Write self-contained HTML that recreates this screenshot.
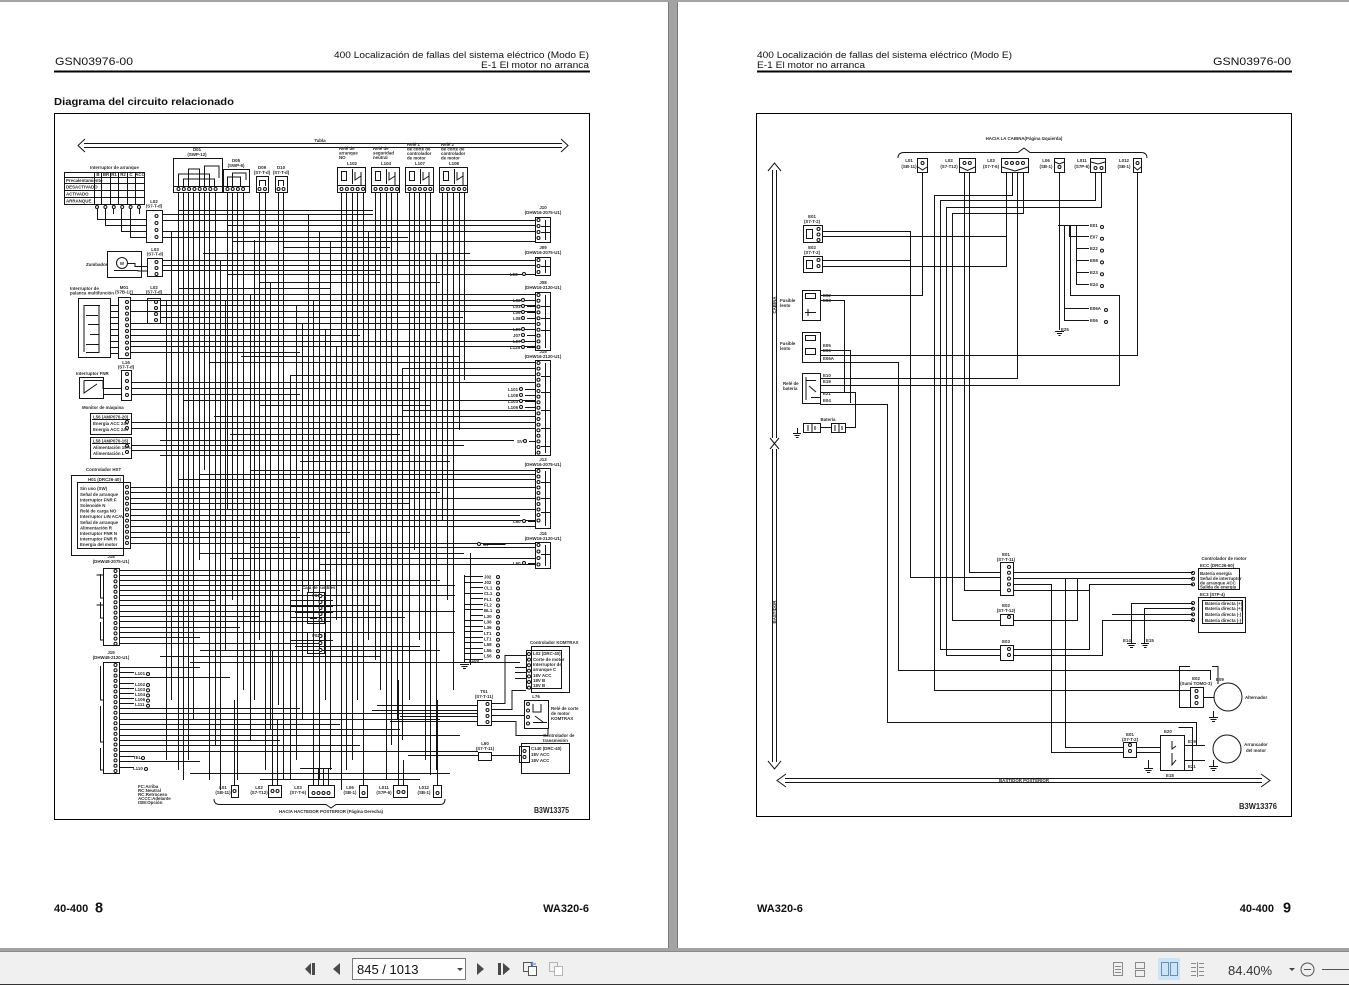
<!DOCTYPE html>
<html><head><meta charset="utf-8">
<style>
html,body{margin:0;padding:0;width:1349px;height:985px;overflow:hidden;background:#a3a3a3}
svg{display:block}
text{font-family:"Liberation Sans",Arial,sans-serif}
.w{fill:none;stroke:#151515;stroke-width:1}
.t{font-size:4.4px;font-weight:bold;fill:#2a2a2a}
.tm{font-size:4.4px;font-weight:bold;fill:#2a2a2a;text-anchor:middle}
</style></head><body>
<svg width="1349" height="985" viewBox="0 0 1349 985" xmlns="http://www.w3.org/2000/svg">
<defs>
<g id="pins" fill="none" stroke-linecap="round">
<path d="M156.5 216V238" stroke-dasharray="0 7"/>
<path d="M156.5 262V275" stroke-dasharray="0 6"/>
<path d="M127 302V355" stroke-dasharray="0 5.8"/>
<path d="M156 302V321" stroke-dasharray="0 6"/>
<path d="M178.5 189H216" stroke-dasharray="0 5.3"/>
<path d="M227.5 189H244" stroke-dasharray="0 5.2"/>
<path d="M259.5 189H266" stroke-dasharray="0 5.5"/>
<path d="M278.5 189H284" stroke-dasharray="0 5"/>
<path d="M341.5 189H364" stroke-dasharray="0 5.4"/>
<path d="M375.5 189H398" stroke-dasharray="0 5.4"/>
<path d="M409.5 189H431" stroke-dasharray="0 5.2"/>
<path d="M442.5 189H465" stroke-dasharray="0 5.5"/>
<path d="M97 207H140" stroke-dasharray="0 8.4"/>
<path d="M127 374V396" stroke-dasharray="0 7"/>
<path d="M127 422V429" stroke-dasharray="0 6"/>
<path d="M127 446V453" stroke-dasharray="0 6"/>
<path d="M127 487V544" stroke-dasharray="0 5.6"/>
<path d="M115.5 571V644" stroke-dasharray="0 5.2"/>
<path d="M115.5 665V771" stroke-dasharray="0 5.3"/>
<path d="M538.5 220V239" stroke-dasharray="0 6"/>
<path d="M538.5 260V273" stroke-dasharray="0 6"/>
<path d="M538.5 295V348" stroke-dasharray="0 5.8"/>
<path d="M538.5 363V453" stroke-dasharray="0 5.6"/>
<path d="M538.5 471V526" stroke-dasharray="0 5.5"/>
<path d="M538.5 545V566" stroke-dasharray="0 6.5"/>
<path d="M498 577V658" stroke-dasharray="0 5.7"/>
<path d="M529 654V688" stroke-dasharray="0 5.6"/>
<path d="M487.5 704V723" stroke-dasharray="0 6"/>
<path d="M528 704V725" stroke-dasharray="0 6.5"/>
<path d="M524.5 751V758" stroke-dasharray="0 6"/>
<path d="M320.5 596V621" stroke-dasharray="0 6"/>
<path d="M320.5 636V651" stroke-dasharray="0 7"/>
<path d="M234.5 791H235" stroke-dasharray="0 10"/>
<path d="M272.5 791H278" stroke-dasharray="0 5"/>
<path d="M313.5 793H329" stroke-dasharray="0 5"/>
<path d="M363.5 793H364" stroke-dasharray="0 10"/>
<path d="M398.5 792H404" stroke-dasharray="0 5"/>
<path d="M437.5 793H438" stroke-dasharray="0 10"/>
<path d="M523 300V319" stroke-dasharray="0 6"/>
<path d="M523 329V348" stroke-dasharray="0 6"/>
<path d="M521 389V408" stroke-dasharray="0 6"/>
<path d="M525 441V442" stroke-dasharray="0 10"/>
<path d="M524 521V522" stroke-dasharray="0 10"/>
<path d="M524 563V564" stroke-dasharray="0 10"/>
<path d="M524 274V275" stroke-dasharray="0 10"/>
<path d="M479 544V545" stroke-dasharray="0 10"/>
<path d="M148 674V675" stroke-dasharray="0 10"/>
<path d="M148 685V706" stroke-dasharray="0 5.2"/>
<path d="M143 758V759" stroke-dasharray="0 10"/>
<path d="M146 769V770" stroke-dasharray="0 10"/>
<path d="M818.5 229V241" stroke-dasharray="0 5.5"/>
<path d="M818.5 260V271" stroke-dasharray="0 6"/>
<path d="M922.5 163H923" stroke-dasharray="0 10"/>
<path d="M964.5 163H970" stroke-dasharray="0 5.3"/>
<path d="M1006.5 163H1024" stroke-dasharray="0 5.5"/>
<path d="M1059.5 167H1060" stroke-dasharray="0 10"/>
<path d="M1095.5 168H1102" stroke-dasharray="0 6"/>
<path d="M1137.5 163H1138" stroke-dasharray="0 10"/>
<path d="M1009 567V591" stroke-dasharray="0 5.8"/>
<path d="M1009 617V623" stroke-dasharray="0 6"/>
<path d="M1009 649V656" stroke-dasharray="0 6"/>
<path d="M1193 573V585" stroke-dasharray="0 5.7"/>
<path d="M1193 603V621" stroke-dasharray="0 5.7"/>
<path d="M1196.5 691V704" stroke-dasharray="0 6"/>
<path d="M1130 745V753" stroke-dasharray="0 6"/>
<path d="M1102 227V287" stroke-dasharray="0 11.8"/>
<path d="M1106 310V323" stroke-dasharray="0 12"/>
</g>
</defs>

<!-- background / pages -->
<rect x="0" y="0" width="1349" height="985" fill="#a3a3a3"/>
<rect x="0" y="2" width="668" height="946" fill="#fff"/>
<rect x="678" y="2" width="671" height="946" fill="#fff"/>
<path d="M668.5 2V948M677.5 2V948" stroke="#7a7a7a" stroke-width="1"/>
<rect x="0" y="952" width="1349" height="33" fill="#f0f0f0"/>
<path d="M0 951.5H1349" stroke="#8a8a8a"/>
<path d="M0 984.5H1349" stroke="#333"/>

<!-- LEFT PAGE header -->
<text x="55" y="65" font-size="11.3" textLength="78" lengthAdjust="spacingAndGlyphs" fill="#111">GSN03976-00</text>
<text x="334" y="58" font-size="9.6" textLength="255" lengthAdjust="spacingAndGlyphs" fill="#111">400 Localización de fallas del sistema eléctrico (Modo E)</text>
<text x="481" y="68" font-size="9.6" textLength="108" lengthAdjust="spacingAndGlyphs" fill="#111">E-1 El motor no arranca</text>
<rect x="54" y="70.5" width="536" height="2" fill="#000"/>
<text x="54" y="105" font-size="10.5" font-weight="bold" textLength="180" lengthAdjust="spacingAndGlyphs" fill="#111">Diagrama del circuito relacionado</text>
<rect x="54.5" y="113.5" width="535" height="706" fill="none" stroke="#000" stroke-width="1"/>
<text x="54" y="912" font-size="11" font-weight="bold" fill="#111">40-400</text>
<text x="95" y="912.5" font-size="14.5" font-weight="bold" fill="#111">8</text>
<text x="589" y="912" font-size="11" font-weight="bold" text-anchor="end" fill="#111">WA320-6</text>

<!-- RIGHT PAGE header -->
<text x="757" y="58" font-size="9.6" textLength="255" lengthAdjust="spacingAndGlyphs" fill="#111">400 Localización de fallas del sistema eléctrico (Modo E)</text>
<text x="757" y="68" font-size="9.6" textLength="108" lengthAdjust="spacingAndGlyphs" fill="#111">E-1 El motor no arranca</text>
<text x="1213" y="65" font-size="11.3" textLength="78" lengthAdjust="spacingAndGlyphs" fill="#111">GSN03976-00</text>
<rect x="757" y="70.5" width="535" height="2" fill="#000"/>
<rect x="756.5" y="113.5" width="535" height="703" fill="none" stroke="#000" stroke-width="1"/>
<text x="757" y="912" font-size="11" font-weight="bold" fill="#111">WA320-6</text>
<text x="1274" y="912" font-size="11" font-weight="bold" text-anchor="end" fill="#111">40-400</text>
<text x="1283" y="912.5" font-size="14.5" font-weight="bold" fill="#111">9</text>

<!-- ============ LEFT DIAGRAM ============ -->
<path class="w" d="M84 143.5H562M84 147.5H562M85 139L78 145.5L85 152M561 139L568 145.5L561 152"/>
<text class="tm" x="320" y="142">Tabla</text>

<!-- verticals -->
<path class="w" d="M178.5 192V770M183.5 192V780M188.5 192V760M193.5 192V720M199.5 192V560M204.5 192V470M209.5 192V780M215.5 192V745M227.5 192V510M232.5 192V600M237.5 192V780M243.5 192V690M259.5 192V640M265.5 192V770M278.5 192V705M283.5 192V780M341.5 192V790M346.5 192V770M352.5 192V760M357.5 192V700M363.5 192V780M375.5 192V660M380.5 192V690M386.5 192V780M391.5 192V745M397.5 192V720M409.5 192V700M414.5 192V550M419.5 192V640M425.5 192V760M430.5 192V775M442.5 192V520M447.5 192V600M453.5 192V690M459.5 192V430M464.5 192V380M166.5 300V760M171.5 231V700M220.5 260V790M225.5 300V650M250.5 294V740M254.5 240V700M270.5 282V730M290.5 375V780M296.5 305V760M302.5 323V720M308.5 214V592M313.5 300V768M319.5 231V780M325.5 329V700M330.5 241V770M336.5 346V620M368.5 231V640M402.5 368V740M436.5 253V770M470.5 553V665M234.5 700V785M272.5 650V785M277.5 720V785M313.5 768V785M318.5 768V785M323.5 768V785M328.5 768V785M363.5 640V785M398.5 680V785M403.5 760V785M437.5 700V785M300 768.5H332"/>
<!-- horizontals -->
<path class="w" d="M178 210.5H373M162 214.5H373M162 220.5H535M227 225.5H535M162 231.5H535M162 237.5H408M232 241.5H535M283 247.5H390M203 253.5H470M162 260.5H535M162 265.5H535M162 270.5H380M227 274.5H535M259 282.5H440M178 288.5H330M130 294.5H535M130 300.5H535M160 305.5H535M130 311.5H535M160 317.5H463M130 323.5H535M130 329.5H535M130 335.5H360M130 341.5H535M130 346.5H535M130 352.5H300M241 356.5H460M209 362.5H535M403 368.5H535M291 375.5H535M131 382.5H535M131 388.5H420M131 394.5H300M183 400.5H535M260 405.5H430M402 410.5H535M214 416.5H535M131 422.5H535M131 428.5H535M230 434.5H400M160 440.5H514M131 445.5H464M131 450.5H409M160 455.5H535M300 461.5H450M250 470.5H535M200 474.5H535M178 479.5H535M130 487.5H535M130 492.5H440M130 498.5H535M130 503.5H409M130 509.5H535M130 515.5H520M130 520.5H535M130 526.5H535M130 532.5H350M130 537.5H300M130 543.5H535M250 547.5H535M200 553.5H464M230 558.5H535M319 564.5H535M119 570.5H330M119 575.5H250M119 580.5H440M119 585.5H455M119 590.5H300M119 595.5H455M119 600.5H215M119 605.5H380M119 611.5H455M119 616.5H260M119 621.5H330M119 627.5H240M119 632.5H455M119 637.5H200M119 643.5H320M200 650.5H440M160 656.5H380M190 662.5H520M119 667.5H200M119 672.5H134M119 677.5H230M119 683.5H134M119 688.5H134M119 693.5H134M119 698.5H134M119 703.5H134M119 708.5H300M119 713.5H477M119 719.5H440M119 724.5H340M119 729.5H400M119 735.5H460M119 740.5H280M119 745.5H360M119 751.5H478M119 756.5H134M119 761.5H200M119 767.5H134M190 773.5H450M260 779.5H420"/>
<!-- right lower area wiring -->
<path class="w" d="M464.5 575V662M464 576.5H483M464 582.5H483M470 587.5H483M464 593.5H483M470 598.5H483M464 604.5H483M464 609.5H483M470 615.5H483M464 620.5H483M464 626.5H483M464 631.5H483M464 637.5H483M464 642.5H483M464 648.5H483M464 653.5H483M464 659.5H483M470.5 587V616M460 664.5H469M461.5 666.5H467.5M463 668.5H466M290 600.5H333M290 606.5H333M295 612.5H333M290 617.5H405M290 640.5H333M295 646.5H420M377 705.5H477M372 710.5H477M400 716.5H477M390 721.5H477M408 755.5H478M491 755.5H521M491 703.5H505V655.5H526M491 709.5H512V690.5H526M491 715.5H524M491 721.5H516V735.5H548V728M515 667.5H526M515 672.5H526M515 678.5H526"/>

<!-- top components -->
<g class="w">
<rect x="64.5" y="172.5" width="80" height="32"/>
<path d="M64 177.5H144M64 183.5H144M64 190.5H144M64 197.5H144M94.5 172V204M101.5 172V204M110.5 172V204M118.5 172V204M127.5 172V204M135.5 172V204"/>
<path d="M97.5 209V219.5H147M105.5 209V225.5H147M121.5 209V231.5H147M130.5 209V237.5H147M113.5 209V214M139.5 209V214"/>
<rect x="146.5" y="210.5" width="16" height="32"/>
<rect x="107.5" y="251.5" width="34" height="26"/>
<circle cx="122" cy="263" r="5.5"/>
<path d="M127.5 263.5H135V266.5H147M114 270.5H138V271H147"/>
<rect x="147.5" y="258.5" width="15" height="18"/>
<rect x="78.5" y="298.5" width="32" height="59"/>
<path d="M84 305.5H100M86 315.5H98M88 324.5H99M90 334.5H99M86 344.5H99M86 352.5H99M84 305V352M99 305V353M110 305.5H118M110 311.5H118M110 317.5H118M110 323.5H118M110 329.5H118M110 335.5H118M110 341.5H118M110 347.5H118M110 353.5H118"/>
<rect x="118.5" y="297.5" width="12" height="61"/>
<rect x="147.5" y="298.5" width="13" height="25"/>
<rect x="79.5" y="377.5" width="24" height="21"/>
<path d="M84 380.5V393L97 384M97 380.5H103V388.5H121M103 394.5H121M84 380.5H97"/>
<rect x="121.5" y="370.5" width="10" height="30"/>
<rect x="90.5" y="413.5" width="41" height="21"/>
<rect x="90.5" y="437.5" width="41" height="21"/>
<path d="M92 419.5H130M92 443.5H130"/>
<rect x="71.5" y="475.5" width="52" height="80"/>
<rect x="77.5" y="482.5" width="53" height="66"/>
<rect x="103.5" y="568.5" width="16" height="77"/>
<path d="M100.5 574V598H103M100.5 602V618H103M100.5 622V640H103M96.5 575H103M96.5 605H103"/>
<rect x="103.5" y="662.5" width="16" height="111"/>
<path d="M100.5 666V700H103M100.5 706V742H103M100.5 748V770H103"/>
<!-- D connectors -->
<rect x="173.5" y="158.5" width="49" height="34"/>
<path d="M173 186.5H222M178.5 186V174H209.5V186M183.5 186V179H214.5V186M188.5 186V169H199.5V186M204.5 186V166H219V178"/>
<rect x="223.5" y="169.5" width="26" height="23"/>
<path d="M223 186.5H249M227.5 186V177H240.5V186M232.5 186V173H246V180"/>
<rect x="256.5" y="176.5" width="12" height="16"/>
<path d="M259.5 186V180.5H265.5V186"/>
<rect x="275.5" y="176.5" width="12" height="16"/>
<path d="M278.5 186V180.5H283.5V186"/>
<!-- relays -->
<rect x="337.5" y="167.5" width="28" height="25"/><path d="M337 185.5H365M352.5 169V184"/><rect x="341.5" y="171.5" width="5" height="9"/><path d="M355 172V180L361 176M361 172V185"/>
<rect x="371.5" y="167.5" width="28" height="25"/><path d="M371 185.5H399M386.5 169V184"/><rect x="375.5" y="171.5" width="5" height="9"/><path d="M389 172V180L395 176M395 172V185"/>
<rect x="405.5" y="167.5" width="28" height="25"/><path d="M405 185.5H433M420.5 169V184"/><rect x="409.5" y="171.5" width="5" height="9"/><path d="M423 172V180L429 176M429 172V185"/>
<rect x="439.5" y="167.5" width="28" height="25"/><path d="M439 185.5H467M454.5 169V184"/><rect x="443.5" y="171.5" width="5" height="9"/><path d="M457 172V180L463 176M463 172V185"/>
<!-- J right connectors -->
<rect x="535.5" y="217.5" width="15" height="25"/>
<rect x="535.5" y="257.5" width="15" height="18"/>
<rect x="535.5" y="292.5" width="15" height="58"/>
<rect x="535.5" y="360.5" width="15" height="95"/>
<rect x="535.5" y="468.5" width="15" height="60"/>
<rect x="535.5" y="542.5" width="15" height="26"/>
<path d="M545.5 220V240M545.5 260V273M545.5 295V348M545.5 363V453M545.5 471V526M545.5 545V566M541 226.5H550M541 232.5H550M541 266.5H550M541 306.5H550M541 318.5H550M541 330.5H550M541 376.5H550M541 392.5H550M541 410.5H550M541 428.5H550M541 446.5H550M541 482.5H550M541 498.5H550M541 512.5H550M541 554.5H550"/>
<path d="M512 274.5H535M527 300.5H535M527 306.5H535M527 312.5H535M527 318.5H535M527 329.5H535M527 335.5H535M527 341.5H535M527 347.5H535M525 389.5H535M525 395.5H535M525 401.5H535M525 407.5H535M529 441.5H535M528 521.5H535M528 563.5H535M483 544.5H505V544"/>
<!-- fuses -->
<rect x="307.5" y="592.5" width="17" height="31"/>
<rect x="307.5" y="632.5" width="17" height="21"/>
<path d="M310 600.5H317M310 606.5H317M310 612.5H317M310 618.5H317M310 640.5H317M310 646.5H317"/>
<!-- komtrax etc -->
<rect x="531.5" y="646.5" width="38" height="46"/>
<rect x="526.5" y="650.5" width="35" height="38"/>
<rect x="477.5" y="700.5" width="14" height="25"/>
<rect x="524.5" y="700.5" width="24" height="28"/>
<path d="M533 704V712H541V704M535 716L543 722M533 722.5H547"/>
<rect x="478.5" y="752.5" width="13" height="8"/>
<rect x="521.5" y="743.5" width="48" height="30"/>
<rect x="519.5" y="746.5" width="10" height="16"/>
<!-- bottom connectors -->
<rect x="231.5" y="785.5" width="7" height="12"/>
<rect x="268.5" y="785.5" width="13" height="12"/>
<rect x="308.5" y="785.5" width="26" height="12"/>
<rect x="359.5" y="785.5" width="8" height="12"/>
<rect x="393.5" y="785.5" width="14" height="12"/>
<rect x="433.5" y="785.5" width="8" height="12"/>
<path d="M214 799Q214 804.5 220 804.5H326L331 808L336 804.5H440Q445 804.5 445 799"/>
</g>
<use href="#pins" stroke="#111" stroke-width="4"/>
<use href="#pins" stroke="#fff" stroke-width="2"/>

<!-- left diagram labels -->
<g>
<text class="t" x="90" y="169">Interruptor de arranque</text>
<text class="t" x="66" y="182">Precalentamiento</text>
<text class="t" x="66" y="188.5">DESACTIVADO</text>
<text class="t" x="66" y="195.5">ACTIVADO</text>
<text class="t" x="66" y="202.5">ARRANQUE</text>
<text class="tm" x="98" y="176">B</text><text class="tm" x="106" y="176">BR</text><text class="tm" x="114" y="176">R1</text><text class="tm" x="123" y="176">R2</text><text class="tm" x="131" y="176">C</text><text class="tm" x="140" y="176">ACC</text>
<text class="tm" x="154" y="203">L02</text><text class="tm" x="154" y="207.5">(S7-T-d)</text>
<text class="t" x="86" y="266">Zumbador</text>
<text class="tm" x="122" y="265">W</text>
<text class="tm" x="155" y="251">L03</text><text class="tm" x="155" y="255.5">(S7-T-d)</text>
<text class="t" x="70" y="290">Interruptor de</text><text class="t" x="70" y="294.5">palanca multifunción</text>
<text class="tm" x="124" y="289">M01</text><text class="tm" x="124" y="293.5">(S7B-12)</text>
<text class="tm" x="154" y="289">L02</text><text class="tm" x="154" y="293.5">(S7-T-d)</text>
<text class="t" x="76" y="375">Interruptor FNR</text>
<text class="tm" x="126" y="364">L16</text><text class="tm" x="126" y="368.5">(S7-T-d)</text>
<text class="t" x="82" y="409">Monitor de máquina</text>
<text class="t" x="93" y="418.5">L56 (AMP070-20)</text>
<text class="t" x="93" y="425">Energía ACC 24V</text><text class="t" x="93" y="431">Energía ACC 24V</text>
<text class="t" x="93" y="442.5">L58 (AMP070-16)</text>
<text class="t" x="93" y="449">Alimentación 15%</text><text class="t" x="93" y="455">Alimentación L</text>
<text class="t" x="86" y="471">Controlador HST</text>
<text class="t" x="88" y="481">H01 (DRC26-40)</text>
<text class="t" x="80" y="490">Sin uso (SW)</text>
<text class="t" x="80" y="496">Señal de arranque</text>
<text class="t" x="80" y="501.5">Interruptor FNR F</text>
<text class="t" x="80" y="507">Solenoide N</text>
<text class="t" x="80" y="512.5">Relé de carga NO</text>
<text class="t" x="80" y="518">Interruptor LIN ACAV</text>
<text class="t" x="80" y="524">Señal de arranque</text>
<text class="t" x="80" y="529.5">Alimentación R</text>
<text class="t" x="80" y="535">Interruptor FNR N</text>
<text class="t" x="80" y="540.5">Interruptor FNR R</text>
<text class="t" x="80" y="546">Energía del motor</text>
<text class="tm" x="111" y="558">J18</text><text class="tm" x="111" y="563">(DHW48-2075-U1)</text>
<text class="tm" x="111" y="654">J19</text><text class="tm" x="111" y="659">(DHW48-2120-U1)</text>
<text class="t" x="135" y="675">L101</text>
<text class="t" x="135" y="686">L102</text><text class="t" x="135" y="691">L103</text><text class="t" x="135" y="696">L104</text><text class="t" x="135" y="701">L106</text><text class="t" x="135" y="706">L111</text>
<text class="t" x="133" y="759">TEL</text><text class="t" x="133" y="770">L110</text>
<text class="t" x="138" y="788">FC:Arriba</text><text class="t" x="138" y="792">RC:Neutral</text><text class="t" x="138" y="796">RC:Retroceso</text><text class="t" x="138" y="800">ACCC:Adelante</text><text class="t" x="138" y="804">ISM:Opción</text>
<text class="tm" x="197" y="151">D01</text><text class="tm" x="197" y="156">(SWP-12)</text>
<text class="tm" x="236" y="162">D05</text><text class="tm" x="236" y="167">(SWP-6)</text>
<text class="tm" x="262" y="169">D09</text><text class="tm" x="262" y="174">(S7-T-d)</text>
<text class="tm" x="281" y="169">D10</text><text class="tm" x="281" y="174">(S7-T-d)</text>
<text class="t" x="339" y="150">Relé de</text><text class="t" x="339" y="154.5">arranque</text><text class="t" x="339" y="159">NO</text>
<text class="tm" x="352" y="165">L102</text>
<text class="t" x="373" y="150">Relé de</text><text class="t" x="373" y="154.5">seguridad</text><text class="t" x="373" y="159">neutral</text>
<text class="tm" x="386" y="165">L104</text>
<text class="t" x="407" y="146">Relé 1</text><text class="t" x="407" y="150.5">de corte de</text><text class="t" x="407" y="155">controlador</text><text class="t" x="407" y="159.5">de motor</text>
<text class="tm" x="420" y="165">L107</text>
<text class="t" x="441" y="146">Relé 2</text><text class="t" x="441" y="150.5">de corte de</text><text class="t" x="441" y="155">controlador</text><text class="t" x="441" y="159.5">de motor</text>
<text class="tm" x="454" y="165">L108</text>
<text class="tm" x="543" y="209">J10</text><text class="tm" x="543" y="214">(DHW16-2075-U1)</text>
<text class="tm" x="543" y="249">J09</text><text class="tm" x="543" y="254">(DHW16-2075-U1)</text>
<text class="tm" x="543" y="284">J08</text><text class="tm" x="543" y="289">(DHW16-2120-U1)</text>
<text class="tm" x="543" y="353">J15</text><text class="tm" x="543" y="358">(DHW16-2120-U1)</text>
<text class="tm" x="543" y="461">J13</text><text class="tm" x="543" y="466">(DHW16-2075-U1)</text>
<text class="tm" x="543" y="535">J16</text><text class="tm" x="543" y="540">(DHW16-2120-U1)</text>
<text class="t" x="510" y="276">L03</text>
<text class="t" x="513" y="302">L02</text><text class="t" x="513" y="308">L03</text><text class="t" x="513" y="314">L06</text><text class="t" x="513" y="320">L08</text>
<text class="t" x="513" y="331">L09</text><text class="t" x="513" y="337">J07</text><text class="t" x="513" y="343">L07</text><text class="t" x="510" y="349">L125</text>
<text class="t" x="508" y="391">L101</text><text class="t" x="508" y="397">L108</text><text class="t" x="508" y="403">L103</text><text class="t" x="508" y="409">L106</text>
<text class="t" x="517" y="443">SV</text>
<text class="t" x="513" y="523">L60</text>
<text class="t" x="513" y="565">L60</text>
<text class="t" x="483" y="546">SV</text>
<text class="t" x="484" y="578.5">J02</text><text class="t" x="484" y="584">J02</text><text class="t" x="484" y="589.5">CL1</text><text class="t" x="484" y="595">CL1</text><text class="t" x="484" y="601">FL1</text><text class="t" x="484" y="606.5">FL2</text><text class="t" x="484" y="612">BL1</text><text class="t" x="484" y="618">L30</text><text class="t" x="484" y="623.5">L36</text><text class="t" x="484" y="629">L36</text><text class="t" x="484" y="635">LT1</text><text class="t" x="484" y="640.5">LT1</text><text class="t" x="484" y="646">L58</text><text class="t" x="484" y="652">L56</text><text class="t" x="484" y="657.5">L56</text>
<text class="t" x="469" y="662">L100</text>
<text class="t" x="302" y="589">Caja de fusibles</text>
<text class="tm" x="316" y="597">F01</text><text class="tm" x="316" y="637">F02</text>
<text class="t" x="530" y="644">Controlador KOMTRAX</text>
<text class="t" x="533" y="655">L02 (DRC-40)</text>
<text class="t" x="533" y="661">Corte de motor</text><text class="t" x="533" y="666">Interruptor de</text><text class="t" x="533" y="671">arranque C</text><text class="t" x="533" y="677">18V ACC</text><text class="t" x="533" y="682">18V B</text><text class="t" x="533" y="687">18V B</text>
<text class="tm" x="484" y="693">T01</text><text class="tm" x="484" y="698">(S7-T-11)</text>
<text class="tm" x="536" y="698">L76</text>
<text class="t" x="551" y="710">Relé de corte</text><text class="t" x="551" y="715">de motor</text><text class="t" x="551" y="720">KOMTRAX</text>
<text class="tm" x="485" y="745">L60</text><text class="tm" x="485" y="750">(S7-T-11)</text>
<text class="t" x="543" y="737">Controlador de</text><text class="t" x="543" y="742">transmisión</text>
<text class="t" x="531" y="750">C140 (DRC-40)</text><text class="t" x="531" y="756">18V ACC</text><text class="t" x="531" y="762">18V ACC</text>
<text class="tm" x="223" y="789">L01</text><text class="tm" x="223" y="794">(SB-11)</text>
<text class="tm" x="259" y="789">L02</text><text class="tm" x="259" y="794">(S7-T12)</text>
<text class="tm" x="298" y="789">L03</text><text class="tm" x="298" y="794">(S7-T-6)</text>
<text class="tm" x="350" y="789">L06</text><text class="tm" x="350" y="794">(SB-1)</text>
<text class="tm" x="384" y="789">L011</text><text class="tm" x="384" y="794">(S7P-6)</text>
<text class="tm" x="424" y="789">L012</text><text class="tm" x="424" y="794">(SB-1)</text>
<text class="tm" x="331" y="813">HACIA HACTEDOR POSTERIOR (Página Derecha)</text>
<text x="534" y="813" font-size="8" font-weight="bold" textLength="35" lengthAdjust="spacingAndGlyphs" fill="#222">B3W13375</text>
</g>

<!-- ============ RIGHT DIAGRAM ============ -->
<text class="tm" x="1024" y="140">HACIA LA CABINA(Página Izquierda)</text>
<path class="w" d="M898 158Q898 152.5 904 152.5H1018L1024 148L1030 152.5H1141Q1147 152.5 1147 158"/>
<g class="w">
<rect x="917.5" y="158.5" width="10" height="14"/>
<rect x="959.5" y="158.5" width="16" height="14"/>
<rect x="1001.5" y="158.5" width="27" height="14"/>
<rect x="1054.5" y="158.5" width="10" height="14"/>
<rect x="1090.5" y="158.5" width="15" height="14"/>
<rect x="1133.5" y="158.5" width="8" height="14"/>
<path d="M918 167L922.5 170L927 167M960 167L967.5 170.5L975 167M1002 167L1015 171L1028 167M1055 162L1059.5 164L1064 162M1091 162L1098 164L1105 162M1134 167L1137.5 170L1141 167"/>
<!-- left arrows -->
<path d="M772.5 170V438M776.5 170V438M768 171L774.5 163L781 171M770 438L779 449M779 438L770 449M772.5 449V762M776.5 449V762M768 761L774.5 769L781 761"/>
<path d="M785 778.5H1262M785 782.5H1262M786 774L777 780.5L786 787M1261 774L1270 780.5L1261 787"/>
<!-- wires -->
<path d="M922.5 172V295.5H820M964.5 172V590.5H1000M969.5 172V572.5H1000M1012.5 172V195.5H934.5V690.5H1190M1006.5 172V266.5H822M822 236.5H1006M1017.5 172V378.5H820M1023.5 172V213.5H952.5V620.5H1000M1095.5 172V200.5H940.5V649.5H1000M1101.5 172V207.5H946.5V655.5H1000M1059.5 172V330M1137.5 172V355.5H820M822 231.5H910.5V577.5H1000M822 260.5H910M1058 225.5H1089M1069.5 225V236.5H1089M1076.5 225V284.5M1076 248.5H1089M1076 260.5H1089M1076 272.5H1089M1076 284.5H1089M1070.5 225V295.5H1119.5V385.5H820M1064.5 225V320.5H1089M1064 308.5H1089M820 300.5H844.5V392.5M820 350.5H850.5V403M820 362.5H898.5V670.5H1210.5V680M820 392.5H855.5V427.5H845M820 404.5H887.5V722.5H1196.5V745"/>
<path d="M1013 572.5H1193M1013 578.5H1193M1065.5 578V747.5H1123M1013 584.5H1051.5V752.5H1123M1013 590.5H1089.5V584.5H1193M1013 620.5H1077.5V578M1013 649.5H1089.5V590M1013 655.5H1102.5V620.5H1193M1193 603.5H1131.5V643M1193 608.5H1144.5V643M1193 614.5H1112"/>
<path d="M1127 643.5H1136M1128.5 645.5H1134.5M1130 647.5H1133M1141 643.5H1149M1142.5 645.5H1147.5M1144 647.5H1146.5M1055 331.5H1064M1057 333.5H1062M1058.5 335.5H1060.5M793 433.5H801M794.5 435.5H799.5M796 437.5H798.5M797.5 428V433M1209 717.5H1218M1210.5 719.5H1216.5M1212 721.5H1215M1213.5 711V717M1209 766.5H1218M1210.5 768.5H1216.5M1212 770.5H1215M1213.5 760V766M1144 768.5H1153M1145.5 770.5H1151.5M1147 772.5H1150M1148.5 760V768"/>
<!-- left components -->
<rect x="803.5" y="225.5" width="19" height="17"/><rect x="806.5" y="229.5" width="6" height="9"/>
<rect x="803.5" y="256.5" width="19" height="16"/><rect x="806.5" y="260.5" width="6" height="8"/>
<rect x="802.5" y="290.5" width="18" height="30"/><rect x="805.5" y="293.5" width="10" height="5"/><path d="M805 312.5H816M808 309V316"/>
<rect x="802.5" y="332.5" width="18" height="30"/><rect x="805.5" y="335.5" width="10" height="5"/><rect x="805.5" y="348.5" width="10" height="6"/>
<rect x="802.5" y="373.5" width="18" height="30"/><path d="M806 377V400M806 380.5H816M809 386L816 392M811 397.5H820"/>
<rect x="803.5" y="423.5" width="17" height="9"/><path d="M808 425V431M812 424V432M815 426V430"/>
<rect x="831.5" y="423.5" width="14" height="9"/><path d="M835 425V431M839 424V432M842 426V430M820 427.5H831"/>
<!-- engine side -->
<rect x="1000.5" y="562.5" width="13" height="33"/>
<rect x="1000.5" y="614.5" width="13" height="11"/>
<rect x="1000.5" y="645.5" width="13" height="15"/>
<rect x="1198.5" y="568.5" width="41" height="21"/>
<rect x="1198.5" y="597.5" width="47" height="35"/>
<rect x="1202.5" y="600.5" width="40" height="23"/>
<rect x="1190.5" y="687.5" width="13" height="20"/>
<path d="M1190 666.5H1179.5V707.5H1190M1203 697.5H1214M1212 666.5H1218V684"/>
<circle cx="1228" cy="697" r="14"/>
<rect x="1123.5" y="742.5" width="13" height="15"/>
<rect x="1160.5" y="735.5" width="24" height="35"/>
<path d="M1172 741V749L1176 746M1172 753V765L1176 760M1178.5 727.5H1192.5V770.5H1178.5M1184 745.5H1205M1184 760.5H1205M1136 747.5H1160M1136 752.5H1160"/>
<circle cx="1227" cy="749" r="14"/>
</g>
<!-- right labels -->
<g>
<text class="tm" x="909" y="162">L01</text><text class="tm" x="909" y="168">(SB-11)</text>
<text class="tm" x="949" y="162">L02</text><text class="tm" x="949" y="168">(S7-T12)</text>
<text class="tm" x="991" y="162">L03</text><text class="tm" x="991" y="168">(S7-T-6)</text>
<text class="tm" x="1046" y="162">L06</text><text class="tm" x="1046" y="168">(SB-1)</text>
<text class="tm" x="1082" y="162">L011</text><text class="tm" x="1082" y="168">(S7P-6)</text>
<text class="tm" x="1124" y="162">L012</text><text class="tm" x="1124" y="168">(SB-1)</text>
<text class="tm" transform="translate(776,305) rotate(-90)">CABINA</text>
<text class="tm" transform="translate(776,612) rotate(-90)">BASTIDOR</text>
<text class="tm" x="1024" y="782">BASTIDOR POSTERIOR</text>
<text class="tm" x="812" y="218">E01</text><text class="tm" x="812" y="223">(S7-T-2)</text>
<text class="tm" x="812" y="249">E02</text><text class="tm" x="812" y="254">(S7-T-2)</text>
<text class="t" x="780" y="302">Fusible</text><text class="t" x="780" y="307">lento</text>
<text class="t" x="780" y="345">Fusible</text><text class="t" x="780" y="350">lento</text>
<text class="t" x="783" y="385">Relé de</text><text class="t" x="783" y="390">batería</text>
<text class="t" x="823" y="297">E02</text><text class="t" x="823" y="302">E03</text>
<text class="t" x="823" y="347">E05</text><text class="t" x="823" y="352">E06</text><text class="t" x="823" y="360">E06A</text>
<text class="t" x="823" y="377">E10</text><text class="t" x="823" y="383">E19</text><text class="t" x="823" y="395">E21</text><text class="t" x="823" y="402">E04</text>
<text class="tm" x="828" y="421">Batería</text>
<text class="t" x="1090" y="227">E01</text><text class="t" x="1090" y="238.5">E07</text><text class="t" x="1090" y="250">E22</text><text class="t" x="1090" y="262">E08</text><text class="t" x="1090" y="274">E23</text><text class="t" x="1090" y="286">E24</text>
<text class="t" x="1090" y="310">E06A</text><text class="t" x="1090" y="322">E06</text>
<text class="t" x="1061" y="331">E25</text>
<text class="tm" x="1006" y="556">E01</text><text class="tm" x="1006" y="561">(S7-T-11)</text>
<text class="tm" x="1006" y="607">E02</text><text class="tm" x="1006" y="612">(S7-T-12)</text>
<text class="tm" x="1006" y="643">E03</text>
<text class="tm" x="1224" y="560">Controlador de motor</text>
<text class="t" x="1200" y="567">ECC (DRC26-60)</text>
<text class="t" x="1200" y="575">Batería energía</text><text class="t" x="1200" y="580">Señal de interruptor</text><text class="t" x="1200" y="584.5">de arranque ACC</text><text class="t" x="1200" y="588.5">Salida de energía</text>
<text class="t" x="1200" y="596">EC3 (S7P-4)</text>
<text class="t" x="1205" y="605">Batería directa (+)</text><text class="t" x="1205" y="610">Batería directa (+)</text><text class="t" x="1205" y="616">Batería directa (-)</text><text class="t" x="1205" y="622">Batería directa (-)</text>
<text class="t" x="1123" y="642">E14</text><text class="t" x="1146" y="642">E15</text>
<text class="tm" x="1196" y="680">E02</text><text class="tm" x="1196" y="685">(Sumi TOMO-3)</text>
<text class="t" x="1216" y="681">E09</text>
<text class="t" x="1245" y="699">Alternador</text>
<text class="tm" x="1130" y="736">E01</text><text class="tm" x="1130" y="741">(S7-T-2)</text>
<text class="t" x="1164" y="733">E20</text><text class="t" x="1166" y="777">E18</text>
<text class="t" x="1188" y="743">E19</text><text class="t" x="1188" y="768">E21</text>
<text class="tm" x="1256" y="746">Arrancador</text><text class="tm" x="1256" y="752">del motor</text>
<text x="1239" y="809" font-size="8" font-weight="bold" textLength="38" lengthAdjust="spacingAndGlyphs" fill="#222">B3W13376</text>
</g>

<!-- ============ TOOLBAR ============ -->
<g fill="#4a4a4a">
<polygon points="311,963 305,969 311,975"/><rect x="312" y="963" width="3" height="12"/>
<polygon points="340,963 333,969 340,975"/>
<polygon points="477,963 484,969 477,975"/>
<rect x="498" y="963" width="3" height="12"/><polygon points="503,963 510,969 503,975"/>
</g>
<rect x="352.5" y="958.5" width="113" height="21" fill="#fff" stroke="#7a7a7a"/>
<text x="357" y="974" font-size="13" fill="#111">845 / 1013</text>
<polygon points="457,968 463,968 460,971" fill="#444"/>
<g fill="none" stroke="#555">
<rect x="523.5" y="962.5" width="8" height="9"/>
<rect x="528.5" y="966.5" width="8" height="9" fill="#fff"/>
<path d="M536 964H531M533 962L531 964L533 966" stroke="#3a7bd5"/>
</g>
<g fill="none" stroke="#b5b5b5">
<rect x="549.5" y="962.5" width="8" height="9"/>
<rect x="554.5" y="966.5" width="8" height="9" fill="#fff"/>
</g>
<g fill="none" stroke="#8a8a8a">
<rect x="1113.5" y="962.5" width="9" height="13"/><path d="M1115 966.5H1121M1115 969.5H1121M1115 972.5H1121"/>
<rect x="1135.5" y="962.5" width="9" height="6"/><rect x="1135.5" y="970.5" width="9" height="6"/>
</g>
<rect x="1158" y="958" width="22" height="22" fill="#cde3f6"/>
<g fill="none" stroke="#6a8fb5">
<rect x="1161.5" y="962.5" width="7" height="13"/><rect x="1170.5" y="962.5" width="7" height="13"/>
</g>
<g fill="none" stroke="#8a8a8a">
<path d="M1191 963.5H1196M1191 967.5H1196M1191 971.5H1196M1191 975.5H1196M1199 963.5H1204M1199 967.5H1204M1199 971.5H1204M1199 975.5H1204M1197.5 962V977"/>
</g>
<text x="1228" y="975" font-size="13" fill="#333">84.40%</text>
<polygon points="1289,968 1295,968 1292,971" fill="#444"/>
<circle cx="1307.5" cy="969.5" r="6.5" fill="none" stroke="#555"/>
<path d="M1304 969.5H1311M1322 969.5H1349" stroke="#555"/>
</svg>
</body></html>
